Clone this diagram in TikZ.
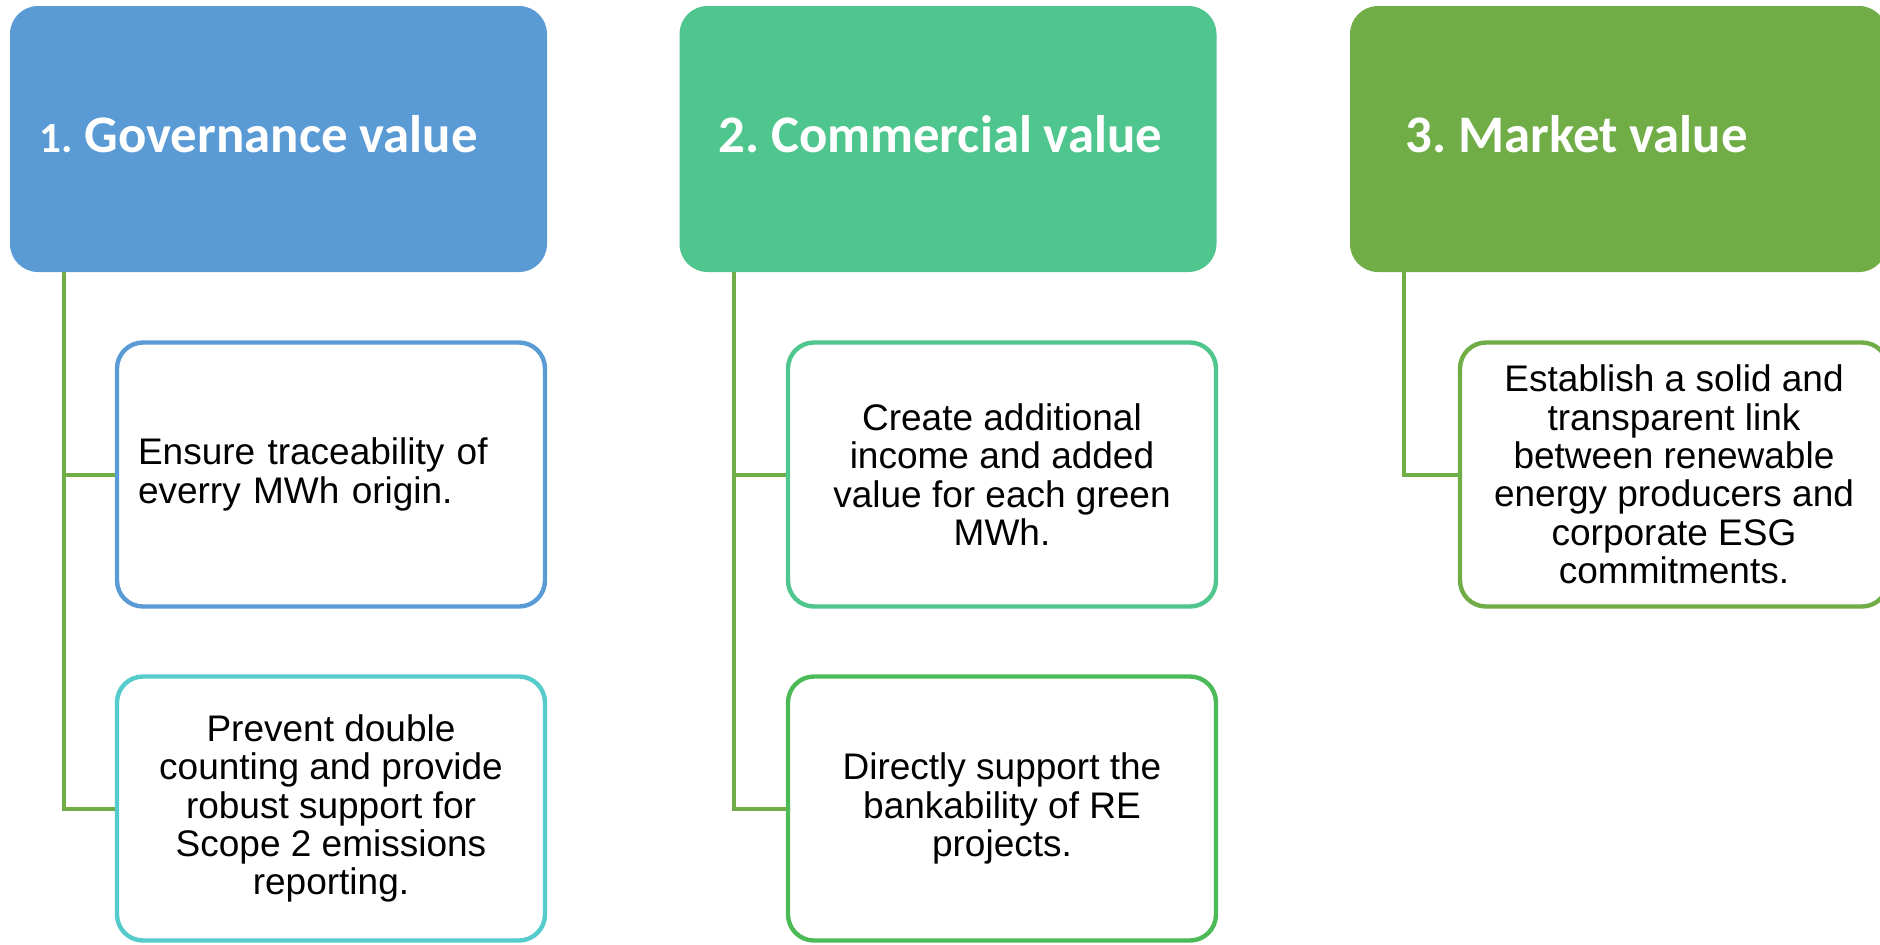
\documentclass[tikz,border=0pt]{standalone}
\usepackage{fontspec}
\setmainfont{Liberation Sans}
\newfontfamily\hdrfont{Carlito}
\definecolor{hblue}{HTML}{5B9BD5}
\definecolor{hmint}{HTML}{4EC68E}
\definecolor{hgreen}{HTML}{70AD47}
\definecolor{ccyan}{HTML}{56CBCB}
\definecolor{cgreen}{HTML}{4CBB57}
\definecolor{lineg}{HTML}{70AD47}
\frenchspacing
\begin{document}
\begin{tikzpicture}[x=0.5pt,y=-0.5pt,
  hdr/.style={rounded corners=14pt, inner sep=0pt, minimum width=268.5pt, minimum height=133pt},
  child/.style={draw, line width=2.2pt, fill=white, rounded corners=13pt, inner sep=0pt,
    minimum width=214pt, minimum height=132pt,
    font=\fontsize{18.5}{19.2}\selectfont, align=center},
  conn/.style={draw=lineg, line width=2pt},
  htext/.style={font=\hdrfont\bfseries\fontsize{26.4}{32}\selectfont, text=white, anchor=base west, inner sep=0pt}]
\useasboundingbox (0,0) rectangle (1880,944);
\clip (0,0) rectangle (1880,944);
% headers
\node[hdr, fill=hblue] (h1) at (278.5,139) {};
\node[hdr, fill=hmint] (h2) at (948,139) {};
\node[hdr, fill=hgreen] (h3) at (1618.5,139) {};
\node[htext] (h1t) at (39,152) {{\fontsize{21.5}{26}\selectfont 1.} Governance value};
\node[htext] (h2t) at (718,152) {2. Commercial value};
\node[htext] (h3t) at (1405,152) {3. Market value};
% connector anchors
\coordinate (v1) at (64,272);
\coordinate (v2) at (734,272);
\coordinate (v3) at (1404,272);
% children
\node[child, draw=hblue, align=left, text width=193pt] (c11) at (331,474.5) {Ensure traceability of\\everry MWh origin.};
\node[child, draw=ccyan] (c12) at (331,808.5) {Prevent double\\counting and provide\\robust support for\\Scope 2 emissions\\reporting.};
\node[child, draw=hmint] (c21) at (1002,474.5) {Create additional\\income and added\\value for each green\\MWh.};
\node[child, draw=cgreen] (c22) at (1002,808.5) {Directly support the\\bankability of RE\\projects.};
\node[child, draw=hgreen] (c31) at (1674,474.5) {Establish a solid and\\transparent link\\between renewable\\energy producers and\\corporate ESG\\commitments.};
% connectors
\draw[conn] (v1) |- (c11.west);
\draw[conn] (v1) |- (c12.west);
\draw[conn] (v2) |- (c21.west);
\draw[conn] (v2) |- (c22.west);
\draw[conn] (v3) |- (c31.west);
\end{tikzpicture}
\end{document}
